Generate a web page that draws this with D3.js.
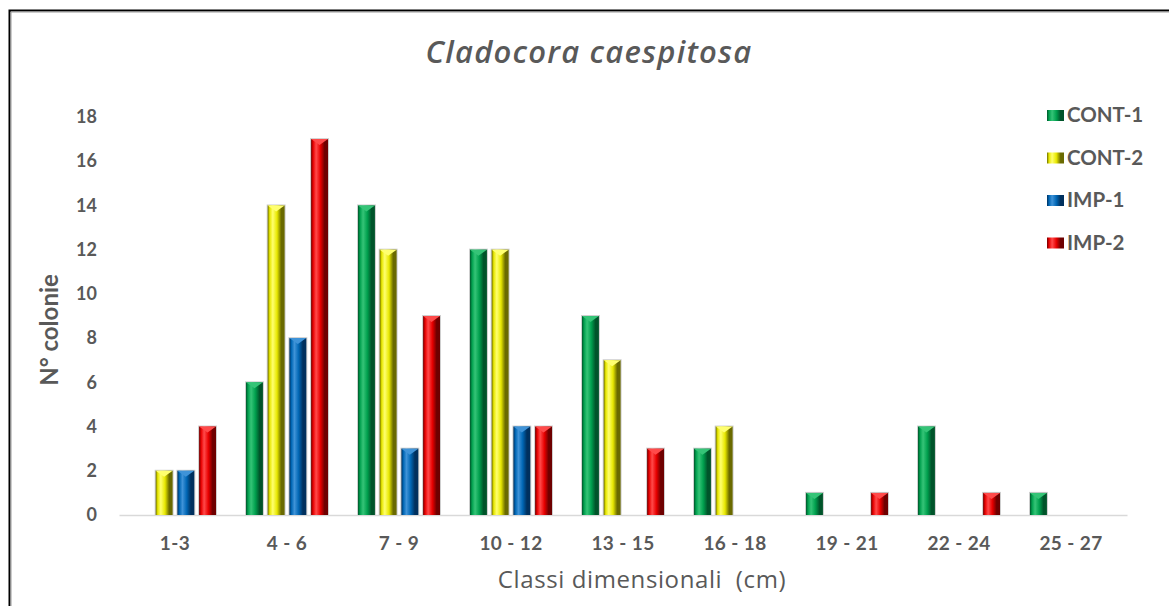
<!DOCTYPE html>
<html>
<head>
<meta charset="utf-8">
<script src="https://cdn.jsdelivr.net/npm/d3@7"></script>
<style>
  body { margin: 0; background: #fff; }
  svg { display: block; font-family: Lato, "Open Sans", sans-serif; }
</style>
</head>
<body>
<div id="chart"></div>
<script>
// data
const categories = ["1-3", "4 - 6", "7 - 9", "10 - 12", "13 - 15", "16 - 18", "19 - 21", "22 - 24", "25 - 27"];
const cont1 = [0, 6, 14, 12, 9, 3, 1, 4, 1];
const cont2 = [2, 14, 12, 12, 7, 4, 0, 0, 0];
const imp1 = [2, 8, 3, 4, 0, 0, 0, 0, 0];
const imp2 = [4, 17, 9, 4, 3, 0, 1, 1, 0];
const seriesNames = ["CONT-1", "CONT-2", "IMP-1", "IMP-2"];
const yTicks = [0, 2, 4, 6, 8, 10, 12, 14, 16, 18];

const colors = [
    {light: "#35c477", base: "#00a04e", dark: "#00542a"},
    {light: "#ffff70", base: "#e8e800", dark: "#6a6a00"},
    {light: "#3f93d8", base: "#0066b4", dark: "#00305e"},
    {light: "#ff4a4a", base: "#e80000", dark: "#6e0000"}
];

const W = 1169, H = 606;
const plot = {left: 119, right: 1127, top: 117, bottom: 515};
const textCol = "#595959";

const svg = d3.select("#chart")
    .append("svg")
    .attr("width", W)
    .attr("height", H);

// frame (only top and left edges show in the picture)
svg.append("path")
    .attr("d", `M9.5,${H} V10.5 H${W}`)
    .attr("fill", "none")
    .attr("stroke", "#000")
    .attr("stroke-width", 2);
svg.append("path")
    .attr("d", `M11,${H} V12 H${W}`)
    .attr("fill", "none")
    .attr("stroke", "#9a9a9a")
    .attr("stroke-width", 1);

// gradients for the bevelled columns
const defs = svg.append("defs");
colors.forEach((c, i) => {
    const g = defs.append("linearGradient")
        .attr("id", "grad" + i)
        .attr("x1", "0").attr("x2", "1").attr("y1", "0").attr("y2", "0");
    g.append("stop").attr("offset", "0%").attr("stop-color", c.dark);
    g.append("stop").attr("offset", "12%").attr("stop-color", c.base);
    g.append("stop").attr("offset", "30%").attr("stop-color", c.light);
    g.append("stop").attr("offset", "55%").attr("stop-color", c.base);
    g.append("stop").attr("offset", "80%").attr("stop-color", c.dark);
    g.append("stop").attr("offset", "100%").attr("stop-color", c.dark);
});

const x = d3.scaleBand()
    .domain(categories)
    .range([plot.left, plot.right]);

const x1 = d3.scaleBand()
    .domain(seriesNames)
    .range([0, 82])
    .paddingInner(0.22);

const y = d3.scaleLinear()
    .domain([0, 18])
    .range([plot.bottom, plot.top]);

// title
svg.append("text")
    .attr("x", 589)
    .attr("y", 63)
    .attr("text-anchor", "middle")
    .attr("font-family", "'Open Sans', sans-serif")
    .attr("font-size", 31)
    .attr("font-style", "italic")
    .attr("font-weight", 600)
    .attr("letter-spacing", 1.2)
    .attr("fill", textCol)
    .text("Cladocora caespitosa");

// y axis labels
const yAxis = svg.append("g")
    .attr("transform", `translate(${plot.left},0)`)
    .call(d3.axisLeft(y).tickValues(yTicks).tickSize(0).tickPadding(22));
yAxis.select(".domain").remove();
yAxis.selectAll("text")
    .attr("font-family", "Lato, sans-serif")
    .attr("font-size", 18)
    .attr("font-weight", "bold")
    .attr("fill", textCol);

// x axis
const xAxis = svg.append("g")
    .attr("transform", `translate(0,${plot.bottom})`)
    .call(d3.axisBottom(x).tickSize(0).tickPadding(22));
xAxis.select(".domain")
    .attr("stroke", "#d9d9d9")
    .attr("stroke-width", 1.5);
xAxis.selectAll("text")
    .attr("font-family", "Lato, sans-serif")
    .attr("font-size", 19)
    .attr("font-weight", "bold")
    .attr("letter-spacing", 0.4)
    .attr("fill", textCol);

// axis titles
svg.append("text")
    .attr("transform", "translate(58,330) rotate(-90)")
    .attr("text-anchor", "middle")
    .attr("font-size", 24)
    .attr("font-weight", "bold")
    .attr("fill", textCol)
    .text("N° colonie");

svg.append("text")
    .attr("x", 642)
    .attr("y", 588)
    .attr("text-anchor", "middle")
    .attr("font-family", "'Open Sans', sans-serif")
    .attr("font-size", 24)
    .attr("letter-spacing", 0.6)
    .attr("fill", textCol)
    .style("white-space", "pre")
    .text("Classi dimensionali  (cm)");

// bars
const series = [cont1, cont2, imp1, imp2];
const rows = [];
categories.forEach((cat, ci) => {
    series.forEach((s, si) => {
        if (s[ci] > 0) rows.push({cat: cat, key: seriesNames[si], si: si, value: s[ci]});
    });
});

const groupOffset = (x.bandwidth() - 82) / 2;

const bars = svg.append("g").selectAll("g")
    .data(rows)
    .join("g")
    .attr("transform", d => `translate(${x(d.cat) + groupOffset + x1(d.key)},0)`);

bars.append("rect")
    .attr("x", -1)
    .attr("y", d => y(d.value) - 1)
    .attr("width", x1.bandwidth() + 2)
    .attr("height", d => y(0) - y(d.value) + 1)
    .attr("fill", "#cfcfcf");

bars.append("rect")
    .attr("x", 0)
    .attr("y", d => y(d.value))
    .attr("width", x1.bandwidth())
    .attr("height", d => y(0) - y(d.value))
    .attr("fill", d => `url(#grad${d.si})`);

// bevelled top
bars.append("path")
    .attr("d", d => {
        const w = x1.bandwidth(), t = y(d.value);
        return `M0,${t} H${w} L${w / 2},${t + 6} Z`;
    })
    .attr("fill", d => colors[d.si].light);

// legend
const legend = svg.append("g")
    .selectAll("g")
    .data(seriesNames)
    .join("g")
    .attr("transform", (d, i) => `translate(1047,${115 + i * 42.5})`);

legend.append("rect")
    .attr("x", 0)
    .attr("y", -5)
    .attr("width", 17)
    .attr("height", 11)
    .attr("fill", (d, i) => `url(#grad${i})`);

legend.append("text")
    .attr("x", 20)
    .attr("y", 0)
    .attr("dy", "0.35em")
    .attr("font-size", 20.5)
    .attr("font-weight", "bold")
    .attr("fill", textCol)
    .text(d => d);
</script>
</body>
</html>
